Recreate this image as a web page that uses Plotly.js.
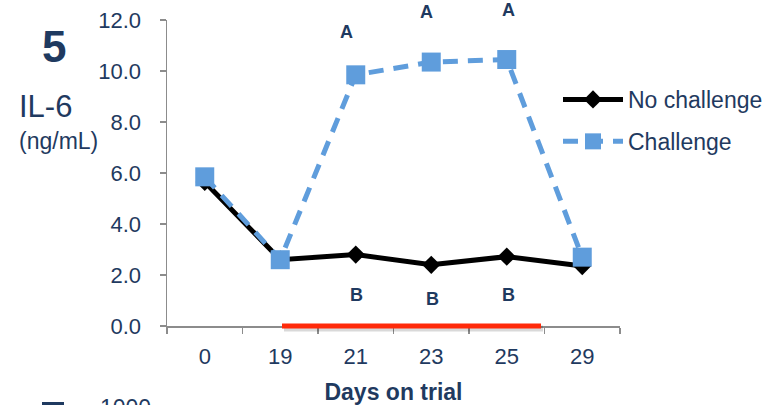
<!DOCTYPE html>
<html><head><meta charset="utf-8">
<script src="https://cdn.plot.ly/plotly-3.0.1.min.js"></script>
<style>html,body{margin:0;padding:0;background:#fff}#chart{width:776px;height:405px}</style>
</head><body><div id="chart"></div>
<script>
const days = ['0','19','21','23','25','29'];
const noChallenge = [5.65, 2.6, 2.8, 2.4, 2.72, 2.35];
const challenge = [5.85, 2.6, 9.85, 10.35, 10.45, 2.7];
const yTicks = [0,2,4,6,8,10,12];
const yTickText = ['0.0','2.0','4.0','6.0','8.0','10.0','12.0'];
// letter labels: category index, y value (ng/mL)
const letterA = [{x: 2, y: 11.53}, {x: 3, y: 12.3}, {x: 4, y: 12.38}];
const letterB = [{x: 2, y: 1.22}, {x: 3, y: 1.06}, {x: 4, y: 1.22}];
const navy = '#1f3a60';
const blue = '#5f9ddc';
const FF = 'Liberation Sans, Arial, sans-serif';
const Y_MAX = 12;

const traces = [
  {x: days, y: noChallenge, name: 'No challenge', type: 'scatter', mode: 'lines+markers', legendgroup: 'a',
   line: {color: '#000', width: 5}, marker: {symbol: 'diamond', size: 14, color: '#000'}},
  {x: days, y: challenge, name: 'Challenge', type: 'scatter', mode: 'lines+markers', legendgroup: 'b',
   line: {color: blue, width: 5, dash: '15px,10px'}, marker: {symbol: 'square', size: 19, color: blue}}
];

const shiftA = [-9, -5, 2];
const shiftB = [1, 1, 2];
const annotations = [];
letterA.forEach((p, i) => annotations.push({x: p.x, y: p.y / Y_MAX, yref: 'paper', text: '<b>A</b>', showarrow: false,
  xanchor: 'center', yanchor: 'middle', xshift: shiftA[i], font: {family: FF, size: 18, color: navy}}));
letterB.forEach((p, i) => annotations.push({x: p.x, y: p.y / Y_MAX, yref: 'paper', text: '<b>B</b>', showarrow: false,
  xanchor: 'center', yanchor: 'middle', xshift: shiftB[i], font: {family: FF, size: 18, color: navy}}));
function pa(px, py, text, size) {
  annotations.push({xref: 'paper', yref: 'paper', x: (px-167)/453, y: 1 - (py-20)/306, text: text,
    showarrow: false, xanchor: 'center', yanchor: 'middle', font: {family: FF, size: size, color: navy}});
}
pa(54, 46, '<b>5</b>', 44);
pa(45, 106, 'IL-6', 31);
pa(58, 141, '(ng/mL)', 23);
pa(125, 408, '1000', 23);

const layout = {
  width: 776, height: 405,
  margin: {l: 167, r: 156, t: 20, b: 79, autoexpand: false},
  paper_bgcolor: '#fff', plot_bgcolor: '#fff',
  showlegend: true,
  legend: {xref: 'container', yref: 'container', x: 558/776, y: 1 - 78/405, xanchor: 'left', yanchor: 'top',
    itemwidth: 60, traceorder: 'grouped', tracegroupgap: 9,
    font: {family: FF, size: 23, color: navy}, bgcolor: 'rgba(0,0,0,0)'},
  xaxis: {type: 'category', range: [-0.5, 5.5], showgrid: false, zeroline: false,
    showline: true, linecolor: '#8c8c8c', linewidth: 1.5, ticks: 'outside', tickson: 'boundaries',
    ticklen: 6, tickcolor: '#8c8c8c', tickwidth: 1.5, ticklabelstandoff: 10,
    tickfont: {family: FF, size: 22, color: navy},
    title: {text: '<b>Days on trial</b>', standoff: 17, font: {family: FF, size: 23, color: navy}}},
  yaxis: {range: [0, Y_MAX], tickvals: yTicks, ticktext: yTickText, showgrid: false, zeroline: false,
    showline: true, linecolor: '#8c8c8c', linewidth: 1.5, ticks: 'outside', ticklen: 6,
    tickcolor: '#8c8c8c', tickwidth: 1.5, ticklabelstandoff: 14,
    tickfont: {family: FF, size: 22, color: navy}},
  shapes: [
    {type: 'line', xref: 'paper', yref: 'paper', x0: (284-167)/453, x1: (543-167)/453, y0: -0.008, y1: -0.008,
     line: {color: 'rgba(0,0,0,0.15)', width: 6}},
    {type: 'line', xref: 'paper', yref: 'paper', x0: (282-167)/453, x1: (541-167)/453, y0: 0, y1: 0,
     line: {color: '#ff2a0a', width: 5}},
    {type: 'line', xref: 'paper', yref: 'paper', x0: (42-167)/453, x1: (64-167)/453,
     y0: 1 - (404-20)/306, y1: 1 - (404-20)/306, line: {color: navy, width: 4}}
  ],
  annotations: annotations
};
Plotly.newPlot('chart', traces, layout, {displayModeBar: false, staticPlot: true});
</script></body></html>
